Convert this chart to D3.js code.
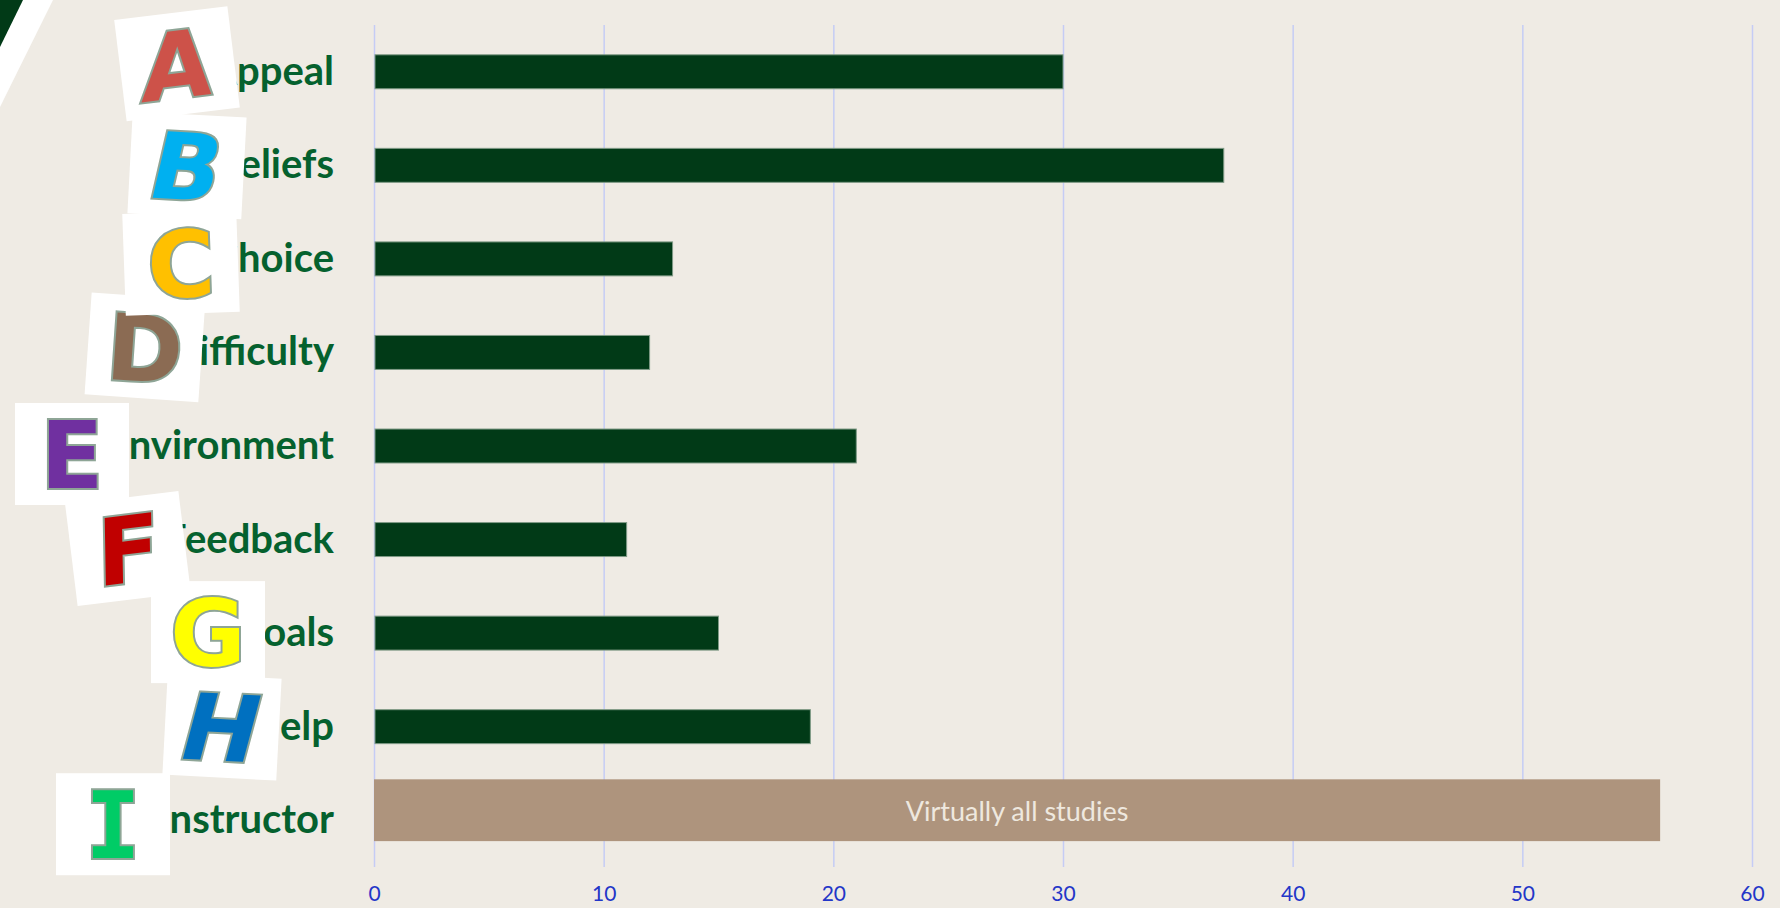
<!DOCTYPE html>
<html>
<head>
<meta charset="utf-8">
<script src="https://cdn.jsdelivr.net/npm/d3@7"></script>
<style>
  body { margin: 0; background: #efebe4; }
  svg { display: block; }
  .label { font-family: Lato, "Open Sans", sans-serif; font-weight: 700; font-size: 40px; fill: #05612e; }
  .axis text { font-family: Lato, "Open Sans", sans-serif; font-size: 21px; fill: #2336c8; }
  .axis line { stroke: #c5ccf5; stroke-width: 1.5; }
  .axis .domain { display: none; }
  .note { font-family: Lato, "Open Sans", sans-serif; font-size: 27px; fill: #eee8df; }
</style>
</head>
<body>
<div id="chart"></div>
<script>
// data
const categories = ["Appeal", "Beliefs", "Choice", "Difficulty", "Environment", "Feedback", "Goals", "Help", "Instructor"];
const studies = [30, 37, 13, 12, 21, 11, 15, 19, 56];
const letterColors = ["#cd5249", "#00b0f0", "#ffc000", "#8b6b53", "#7030a0", "#c00000", "#ffff00", "#0070c0", "#00cc66"];
const xTicks = [0, 10, 20, 30, 40, 50, 60];
const noteText = "Virtually all studies";

// layout of the letter tiles (x centre, shift from row centre, rotation, letter slant)
const tileLayout = [
  { cx: 177, dy: -8, rot: -7, slant: -8 },
  { cx: 187, dy: 0, rot: 3, slant: -10 },
  { cx: 181, dy: 4, rot: -2, slant: 0 },
  { cx: 145, dy: -5, rot: 4, slant: 0 },
  { cx: 72, dy: 8, rot: 0, slant: 0 },
  { cx: 128, dy: 9, rot: -7, slant: -6 },
  { cx: 208, dy: -1, rot: 0, slant: 0 },
  { cx: 222, dy: 0, rot: 3, slant: -12 },
  { cx: 113, dy: 4, rot: 0, slant: 0 }
];

const width = 1780,
  height = 908,
  margin = { top: 25, bottom: 41, left: 374, right: 28 },
  labelX = 334,
  tileW = 114,
  tileH = 102;

const rows = categories.map((c, i) => ({ name: c, value: studies[i], color: letterColors[i], tile: tileLayout[i] }));

const xScale = d3.scaleLinear()
  .domain([0, 60])
  .range([margin.left, width - margin.right]);

const yScale = d3.scaleBand()
  .domain(categories)
  .range([margin.top, height - margin.bottom])
  .paddingInner(0.637)
  .paddingOuter(0.3185);

const mid = d => yScale(d) + yScale.bandwidth() / 2;

const svg = d3.select("#chart")
  .append("svg")
  .attr("width", width)
  .attr("height", height);

svg.append("rect")
  .attr("width", width)
  .attr("height", height)
  .attr("fill", "#efebe4");

// corner decoration
svg.append("polygon").attr("points", "0,0 53,0 0,107").attr("fill", "#ffffff");
svg.append("polygon").attr("points", "0,0 23,0 0,47").attr("fill", "#013a17");

// grid + tick labels
const xAxis = d3.axisBottom(xScale)
  .tickValues(xTicks)
  .tickSize(-(height - margin.bottom - margin.top))
  .tickPadding(19);

svg.append("g")
  .attr("class", "axis")
  .attr("transform", `translate(0,${height - margin.bottom})`)
  .call(xAxis);

// bars
const bars = rows.slice(0, 8);
svg.selectAll("rect.bar")
  .data(bars)
  .join("rect")
  .attr("class", "bar")
  .attr("x", xScale(0) + 1)
  .attr("y", d => yScale(d.name))
  .attr("width", d => xScale(d.value) - xScale(0) - 1)
  .attr("height", yScale.bandwidth())
  .attr("fill", "#013a17")
  .attr("stroke", "#7f9a86")
  .attr("stroke-width", 1);

// the instructor row is a wider tan band
const last = rows[8];
const bandH = yScale.bandwidth() * 1.82;
svg.append("rect")
  .attr("x", xScale(0))
  .attr("y", mid(last.name) - 10 - bandH / 2)
  .attr("width", xScale(last.value) - xScale(0))
  .attr("height", bandH)
  .attr("fill", "#ae947d");
svg.append("text")
  .attr("class", "note")
  .attr("x", (xScale(0) + xScale(last.value)) / 2)
  .attr("y", mid(last.name) + 1)
  .attr("text-anchor", "middle")
  .text(noteText);

// category labels
svg.selectAll("text.label")
  .data(rows)
  .join("text")
  .attr("class", "label")
  .attr("x", labelX)
  .attr("y", d => mid(d.name) + 13)
  .attr("text-anchor", "end")
  .text(d => d.name);

// letter tiles on top of the first letters
const order = [8, 7, 6, 5, 4, 3, 1, 2, 0];
const tiles = svg.selectAll("g.tile")
  .data(order.map(i => rows[i]))
  .join("g")
  .attr("class", "tile")
  .attr("transform", d => `translate(${d.tile.cx},${mid(d.name) + d.tile.dy}) rotate(${d.tile.rot})`);

tiles.append("rect")
  .attr("x", -tileW / 2)
  .attr("y", -tileH / 2)
  .attr("width", tileW)
  .attr("height", tileH)
  .attr("fill", "#ffffff");

tiles.append("text")
  .attr("transform", d => `skewX(${d.tile.slant})`)
  .attr("x", 0)
  .attr("y", 34)
  .attr("text-anchor", "middle")
  .attr("font-family", d => d.name[0] === "I" ? "DejaVu Sans Mono" : "DejaVu Sans")
  .attr("font-weight", 700)
  .attr("font-size", 92)
  .attr("fill", d => d.color)
  .attr("stroke", "#8ea596")
  .attr("stroke-width", 4)
  .attr("paint-order", "stroke")
  .text(d => d.name[0]);
</script>
</body>
</html>
